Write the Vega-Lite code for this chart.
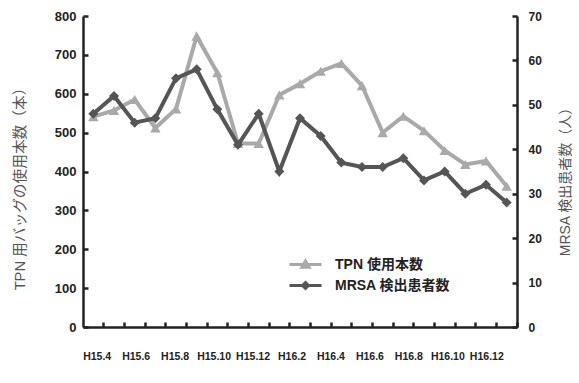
{
  "$schema": "https://vega.github.io/schema/vega-lite/v6.json",
  "width": 434,
  "height": 311,
  "autosize": {"type": "none"},
  "padding": {"left": 83, "top": 16, "right": 62, "bottom": 56},
  "background": "white",
  "config": {
    "view": {"stroke": null},
    "font": "Liberation Sans, Noto Sans CJK JP",
    "axis": {
      "grid": false,
      "domainColor": "#222222",
      "domainWidth": 2.5,
      "tickColor": "#222222",
      "tickWidth": 2.5,
      "tickSize": -5,
      "labelFont": "Liberation Sans, Noto Sans CJK JP",
      "labelFontWeight": "bold",
      "labelColor": "#222222",
      "labelFontSize": 13,
      "titleFont": "Liberation Sans, Noto Sans CJK JP",
      "titleFontWeight": "normal",
      "titleColor": "#555555",
      "titleFontSize": 14
    }
  },
  "data": {
    "values": [
      {"month": "H15.4", "tpn": 541, "mrsa": 48},
      {"month": "H15.5", "tpn": 557, "mrsa": 52},
      {"month": "H15.6", "tpn": 585, "mrsa": 46},
      {"month": "H15.7", "tpn": 512, "mrsa": 47},
      {"month": "H15.8", "tpn": 561, "mrsa": 56},
      {"month": "H15.9", "tpn": 748, "mrsa": 58},
      {"month": "H15.10", "tpn": 654, "mrsa": 49},
      {"month": "H15.11", "tpn": 472, "mrsa": 41},
      {"month": "H15.12", "tpn": 472, "mrsa": 48},
      {"month": "H16.1", "tpn": 597, "mrsa": 35},
      {"month": "H16.2", "tpn": 626, "mrsa": 47},
      {"month": "H16.3", "tpn": 658, "mrsa": 43},
      {"month": "H16.4", "tpn": 678, "mrsa": 37},
      {"month": "H16.5", "tpn": 621, "mrsa": 36},
      {"month": "H16.6", "tpn": 500, "mrsa": 36},
      {"month": "H16.7", "tpn": 542, "mrsa": 38},
      {"month": "H16.8", "tpn": 505, "mrsa": 33},
      {"month": "H16.9", "tpn": 454, "mrsa": 35},
      {"month": "H16.10", "tpn": 418, "mrsa": 30},
      {"month": "H16.11", "tpn": 427, "mrsa": 32},
      {"month": "H16.12", "tpn": 362, "mrsa": 28}
    ]
  },
  "layer": [
    {
      "mark": {"type": "line", "strokeWidth": 4, "point": {"shape": "triangle-up", "size": 110, "filled": true, "opacity": 1}},
      "encoding": {
        "x": {
          "field": "month",
          "type": "ordinal",
          "sort": null,
          "scale": {"type": "band", "paddingInner": 0, "paddingOuter": 0},
          "axis": {
            "title": null,
            "bandPosition": 1,
            "labels": false
          }
        },
        "y": {
          "field": "tpn",
          "type": "quantitative",
          "scale": {"domain": [0, 800]},
          "axis": {
            "orient": "left",
            "title": "TPN 用バッグの使用本数（本）",
            "titleFontSize": 14.7,
            "values": [0, 100, 200, 300, 400, 500, 600, 700, 800],
            "labelPadding": 12,
            "titleX": -63,
            "titleY": 169,
            "titleAngle": -90,
            "titleAlign": "center",
            "titleBaseline": "middle"
          }
        },
        "color": {
          "datum": "TPN 使用本数",
          "scale": {"domain": ["TPN 使用本数", "MRSA 検出患者数"], "range": ["#a9a9a9", "#555555"]},
          "legend": {
            "orient": "none",
            "legendX": 215,
            "legendY": 241,
            "title": null,
            "symbolSize": 144,
            "labelOffset": 22,
            "rowPadding": 2,
            "labelFontSize": 14,
            "labelFontWeight": "bold",
            "labelColor": "#222222",
            "labelFont": "Liberation Sans, Noto Sans CJK JP",
            "symbolStrokeWidth": 3,
            "encode": {
              "symbols": {
                "update": {
                  "shape": {"signal": "datum.value === 'TPN 使用本数' ? 'M-2.67,0H2.67M0,-0.6L0.6,0.45L-0.6,0.45Z' : 'M-2.67,0H2.67M0,-0.5L0.5,0L0,0.5L-0.5,0Z'"},
                  "fill": {"signal": "datum.value === 'TPN 使用本数' ? '#a9a9a9' : '#555555'"},
                  "stroke": {"signal": "datum.value === 'TPN 使用本数' ? '#a9a9a9' : '#555555'"},
                  "fillOpacity": {"value": 1},
                  "opacity": {"value": 1}
                }
              }
            }
          }
        }
      }
    },
    {
      "mark": {"type": "line", "strokeWidth": 4, "point": {"shape": "diamond", "size": 100, "filled": true, "opacity": 1}},
      "encoding": {
        "x": {
          "field": "month",
          "type": "ordinal",
          "sort": null,
          "scale": {"type": "band", "paddingInner": 0, "paddingOuter": 0},
          "axis": null
        },
        "y": {
          "field": "mrsa",
          "type": "quantitative",
          "scale": {"domain": [0, 70]},
          "axis": {
            "orient": "right",
            "title": "MRSA 検出患者数（人）",
            "values": [0, 10, 20, 30, 40, 50, 60, 70],
            "labelFontSize": 12,
            "labelPadding": 16,
            "titleX": 48,
            "titleY": 162,
            "titleAngle": -90,
            "titleAlign": "center",
            "titleBaseline": "middle"
          }
        },
        "color": {"datum": "MRSA 検出患者数"}
      }
    },
    {
      "transform": [{"filter": "toNumber(split(datum.month, '.')[1]) % 2 == 0"}],
      "mark": {
        "type": "text",
        "align": "center",
        "baseline": "middle",
        "font": "Liberation Sans",
        "fontWeight": "bold",
        "fontSize": 10.5,
        "color": "#222222",
        "xOffset": -8,
        "yOffset": 30
      },
      "encoding": {
        "x": {
          "field": "month",
          "type": "ordinal",
          "sort": null,
          "scale": {"type": "point", "padding": 0.57},
          "axis": null
        },
        "y": {"datum": 0, "type": "quantitative", "scale": {"domain": [0, 800]}, "axis": null},
        "text": {"field": "month"}
      }
    }
  ],
  "resolve": {"scale": {"x": "independent", "y": "independent"}}
}
